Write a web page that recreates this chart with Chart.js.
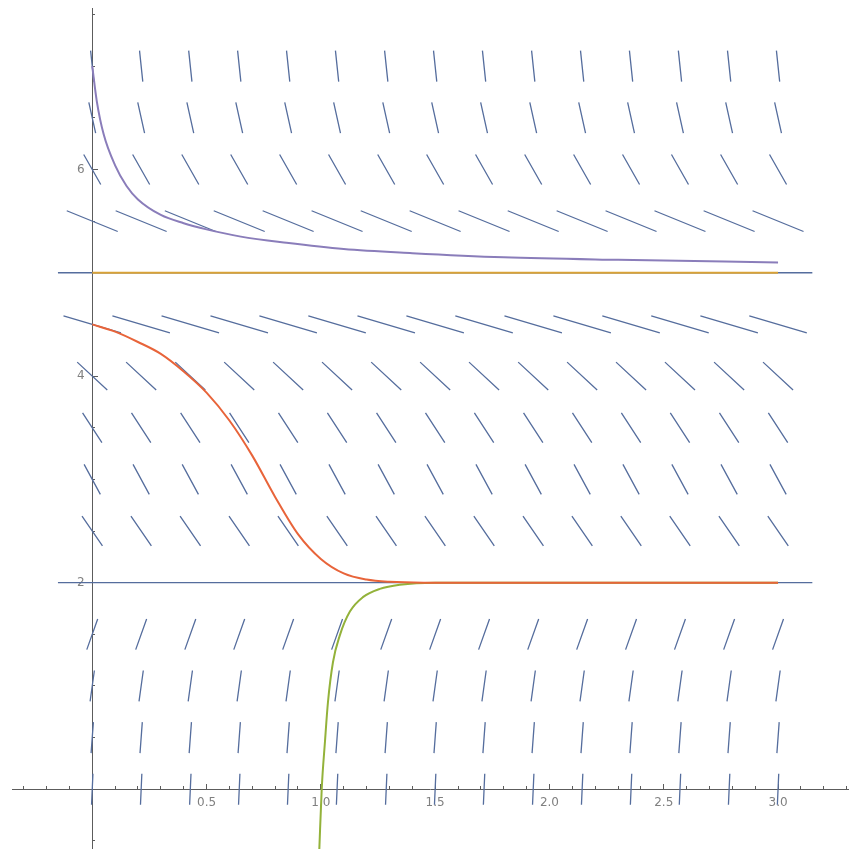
<!DOCTYPE html>
<html>
<head>
<meta charset="utf-8">
<script src="https://cdn.jsdelivr.net/npm/chart.js@4.4.1/dist/chart.umd.min.js"></script>
<style>
  html, body { margin: 0; padding: 0; background: #fff; }
  #wrap { width: 867px; height: 849px; }
</style>
</head>
<body>
<div id="wrap"><canvas id="chart" width="867" height="849"></canvas></div>
<script>
const fieldX = [0, 0.214, 0.429, 0.643, 0.857, 1.071, 1.286, 1.5, 1.714, 1.929, 2.143, 2.357, 2.571, 2.786, 3.0];
const fieldY = [0, 0.5, 1, 1.5, 2, 2.5, 3, 3.5, 4, 4.5, 5, 5.5, 6, 6.5, 7];
const fieldSlope = [50, 30, 16, 6.2, 0, -3.2, -4.1, -3.4, -2.05, -0.65, 0, -0.9, -3.9, -10, -21];

// solution curves
const purpleX = [0, 0.02, 0.05, 0.1, 0.15, 0.2, 0.3, 0.4, 0.5, 0.65, 0.85, 1.1, 1.4, 1.8, 2.3, 3.0];
const purpleY = [7.0, 6.66, 6.34, 6.04, 5.84, 5.71, 5.56, 5.48, 5.42, 5.35, 5.29, 5.23, 5.19, 5.15, 5.125, 5.10];
const orangeX = [0, 3.0];
const orangeY = [5, 5];
const redX = [0, 0.1, 0.2, 0.3, 0.4, 0.5, 0.6, 0.7, 0.8, 0.9, 1.0, 1.1, 1.2, 1.3, 1.45, 3.0];
const redY = [4.5, 4.43, 4.33, 4.215, 4.045, 3.84, 3.57, 3.23, 2.83, 2.47, 2.23, 2.09, 2.03, 2.008, 2.0, 2.0];
const greenX = [0.993, 1.004, 1.018, 1.031, 1.053, 1.083, 1.127, 1.184, 1.258, 1.345, 1.5, 3.0];
const greenY = [-0.6, 0.01, 0.46, 0.84, 1.23, 1.49, 1.72, 1.86, 1.94, 1.98, 2.0, 2.0];

// axis ticks
const xMajor = [0.5, 1, 1.5, 2, 2.5, 3];
const xLabels = ['0.5', '1.0', '1.5', '2.0', '2.5', '3.0'];
const xMinor = [-0.3, -0.2, -0.1, 0.1, 0.2, 0.3, 0.4, 0.6, 0.7, 0.8, 0.9, 1.1, 1.2, 1.3, 1.4,
  1.6, 1.7, 1.8, 1.9, 2.1, 2.2, 2.3, 2.4, 2.6, 2.7, 2.8, 2.9, 3.1, 3.2, 3.3];
const yMajor = [2, 4, 6];
const yLabels = ['2', '4', '6'];
const yMinor = [-0.5, 0.5, 1, 1.5, 2.5, 3, 3.5, 4.5, 5, 5.5, 6.5, 7, 7.5];

const pts = (xs, ys) => xs.map((x, i) => ({ x: x, y: ys[i] }));

// each field mark is a short segment of fixed length along (1, slope)
const segHalf = 0.15;
const fieldData = [];
fieldY.forEach((y, r) => {
  const m = fieldSlope[r];
  const n = Math.sqrt(1 + m * m);
  const dx = segHalf / n, dy = segHalf * m / n;
  fieldX.forEach(x => {
    fieldData.push({ x: x - dx, y: y - dy }, { x: x + dx, y: y + dy }, { x: x, y: null });
  });
});

const axisGray = '#5c5c5c';
const labelGray = '#808080';
const tickFont = { family: 'DejaVu Sans', size: 12 };
const fixedTicks = values => axis => { axis.ticks = values.map(v => ({ value: v })); };
// axes sit inside the plot, so they must not shrink the chart area
const noPadding = s => { s.paddingTop = 0; s.paddingBottom = 0; s.paddingLeft = 0; s.paddingRight = 0; };

const curve = (data, color) => ({
  data: data,
  borderColor: color,
  borderWidth: 2,
  pointRadius: 0,
  fill: false,
  cubicInterpolationMode: 'monotone'
});

new Chart(document.getElementById('chart'), {
  type: 'line',
  data: {
    datasets: [
      curve(pts(redX, redY), '#e8643a'),
      curve(pts(greenX, greenY), '#93b23a'),
      curve(pts(purpleX, purpleY), '#8a7dba'),
      curve(pts(orangeX, orangeY), '#d9a236'),
      {
        data: fieldData,
        borderColor: '#556d9d',
        borderWidth: 1.3,
        pointRadius: 0,
        spanGaps: false,
        tension: 0
      }
    ]
  },
  options: {
    responsive: false,
    animation: false,
    events: [],
    layout: { padding: { left: 12, right: 19, top: 8, bottom: 0 } },
    plugins: { legend: { display: false }, tooltip: { enabled: false } },
    scales: {
      x: {
        type: 'linear', min: -0.351, max: 3.306,
        position: { y: 0 },
        afterBuildTicks: fixedTicks(xMajor),
        afterFit: noPadding,
        ticks: { autoSkip: false, maxRotation: 0, padding: 12, color: labelGray, font: tickFont,
          callback: (v, i) => xLabels[i] },
        grid: { drawOnChartArea: false, tickLength: -6, tickColor: axisGray },
        border: { display: true, color: axisGray, width: 1 }
      },
      xMinor: {
        type: 'linear', axis: 'x', min: -0.351, max: 3.306,
        position: { y: 0 },
        afterBuildTicks: fixedTicks(xMinor),
        afterFit: noPadding,
        ticks: { display: false },
        grid: { drawOnChartArea: false, tickLength: -3, tickColor: axisGray },
        border: { display: false }
      },
      y: {
        type: 'linear', min: -0.578, max: 7.563,
        position: { x: 0 },
        afterBuildTicks: fixedTicks(yMajor),
        afterFit: noPadding,
        ticks: { autoSkip: false, padding: 8, color: labelGray, font: tickFont,
          callback: (v, i) => yLabels[i] + '  ' },
        grid: { drawOnChartArea: false, tickLength: -6, tickColor: axisGray },
        border: { display: true, color: axisGray, width: 1 }
      },
      yMinor: {
        type: 'linear', axis: 'y', min: -0.578, max: 7.563,
        position: { x: 0 },
        afterBuildTicks: fixedTicks(yMinor),
        afterFit: noPadding,
        ticks: { display: false },
        grid: { drawOnChartArea: false, tickLength: -3, tickColor: axisGray },
        border: { display: false }
      }
    }
  }
});
</script>
</body>
</html>
